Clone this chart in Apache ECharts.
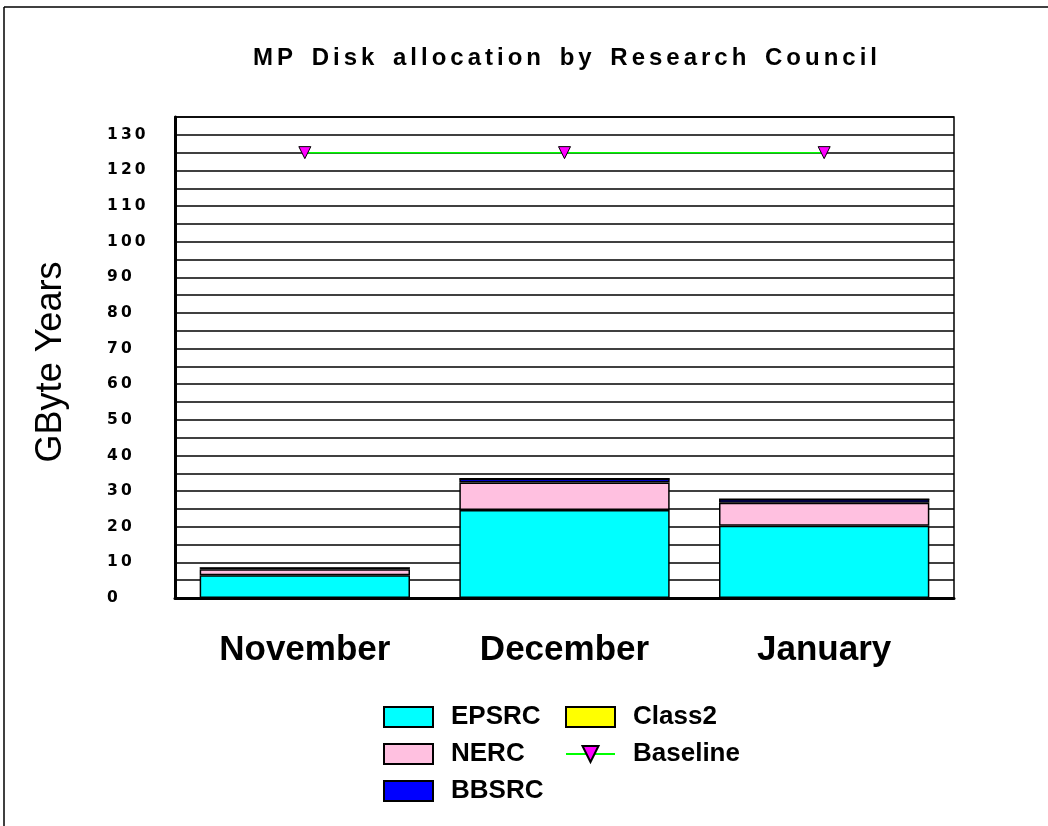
<!DOCTYPE html>
<html>
<head>
<meta charset="utf-8">
<script src="https://cdn.jsdelivr.net/npm/echarts@6/dist/echarts.min.js"></script>
<style>
  html, body { margin: 0; padding: 0; background: #fff; }
  #chart { width: 1048px; height: 826px; }
</style>
</head>
<body>
<div id="chart"></div>
<script>
// Monthly disk allocation (GByte years) per research council
const months = ['November', 'December', 'January'];
const epsrc  = [6.4, 24.7, 20.3];
const nerc   = [1.7, 7.7, 6.4];
const bbsrc  = [0.3, 1.1, 1.0];
const class2 = [0, 0, 0];
const baseline = [125, 125, 125];

const yMax = 135;
const yStep = 5;

// spread characters apart with narrow spaces
function spread(s, sep, wordSep) {
  return s.split(' ').map(w => w.split('').join(sep)).join(wordSep);
}

const chart = echarts.init(document.getElementById('chart'));

const barBorder = { borderColor: '#000', borderWidth: 1.5 };
const legendText = { fontFamily: 'Liberation Sans', fontWeight: 'bold', fontSize: 26, color: '#000', padding: [0, 0, 0, 13] };

chart.setOption({
  backgroundColor: '#fff',
  animation: false,
  title: {
    text: spread('MP Disk allocation by Research Council', '\u2006', '\u2006 \u2006\u2006'),
    left: 560,
    top: 41,
    textAlign: 'center',
    textStyle: { fontFamily: 'Liberation Sans', fontWeight: 'bold', fontSize: 24, color: '#000' }
  },
  grid: {
    left: 175, right: 94, top: 117, bottom: 228,
    show: true, borderColor: '#000', borderWidth: 1.5
  },
  xAxis: {
    type: 'category',
    data: months,
    axisLine: { lineStyle: { color: '#000', width: 3 } },
    axisTick: { show: false },
    axisLabel: {
      margin: 35,
      fontFamily: 'Liberation Sans', fontWeight: 'bold', fontSize: 35, color: '#000'
    }
  },
  yAxis: {
    type: 'value',
    min: 0, max: yMax, interval: yStep,
    axisLine: { show: true, lineStyle: { color: '#000', width: 3 } },
    axisTick: { show: false },
    splitLine: { lineStyle: { color: '#000', width: 1.5 } },
    axisLabel: {
      align: 'left',
      margin: 68,
      fontFamily: 'DejaVu Sans', fontWeight: 'bold', fontSize: 15.5, color: '#000',
      formatter: v => (v % 10 === 0 ? spread(String(v), '\u2009', ' ') : '')
    }
  },
  legend: [
    {
      data: ['EPSRC', 'NERC', 'BBSRC'],
      orient: 'vertical',
      left: 383, top: 704, padding: 0,
      icon: 'rect',
      itemWidth: 49, itemHeight: 20, itemGap: 11,
      textStyle: legendText
    },
    {
      data: [{ name: 'Class2', icon: 'rect' }, { name: 'Baseline' }],
      orient: 'vertical',
      left: 565, top: 704, padding: 0,
      itemWidth: 49, itemHeight: 20, itemGap: 11,
      textStyle: legendText
    }
  ],
  series: [
    { name: 'EPSRC', type: 'bar', stack: 'rc', data: epsrc, barWidth: '81%',
      itemStyle: Object.assign({ color: '#00FFFF' }, barBorder) },
    { name: 'NERC', type: 'bar', stack: 'rc', data: nerc,
      itemStyle: Object.assign({ color: '#FFC0E0' }, barBorder) },
    { name: 'BBSRC', type: 'bar', stack: 'rc', data: bbsrc,
      itemStyle: Object.assign({ color: '#0000FF' }, barBorder) },
    { name: 'Class2', type: 'bar', stack: 'rc', data: class2,
      itemStyle: Object.assign({ color: '#FFFF00' }, barBorder) },
    { name: 'Baseline', type: 'line', data: baseline,
      symbol: 'triangle', symbolRotate: 180, symbolSize: 12,
      lineStyle: { color: '#00FF00', width: 1.5 },
      itemStyle: { color: '#FF00FF', borderColor: '#000', borderWidth: 1 } }
  ],
  graphic: [
    { type: 'line', shape: { x1: 4, y1: 7, x2: 1048, y2: 7 }, style: { stroke: '#000', lineWidth: 1.5 } },
    { type: 'line', shape: { x1: 4, y1: 7, x2: 4, y2: 826 }, style: { stroke: '#000', lineWidth: 1.5 } },
    { type: 'text', x: 51, y: 362, rotation: Math.PI / 2,
      style: { text: 'GByte Years', fontFamily: 'Liberation Sans', fontSize: 36, fill: '#000',
               textAlign: 'center', textVerticalAlign: 'middle' } }
  ]
});
</script>
</body>
</html>
